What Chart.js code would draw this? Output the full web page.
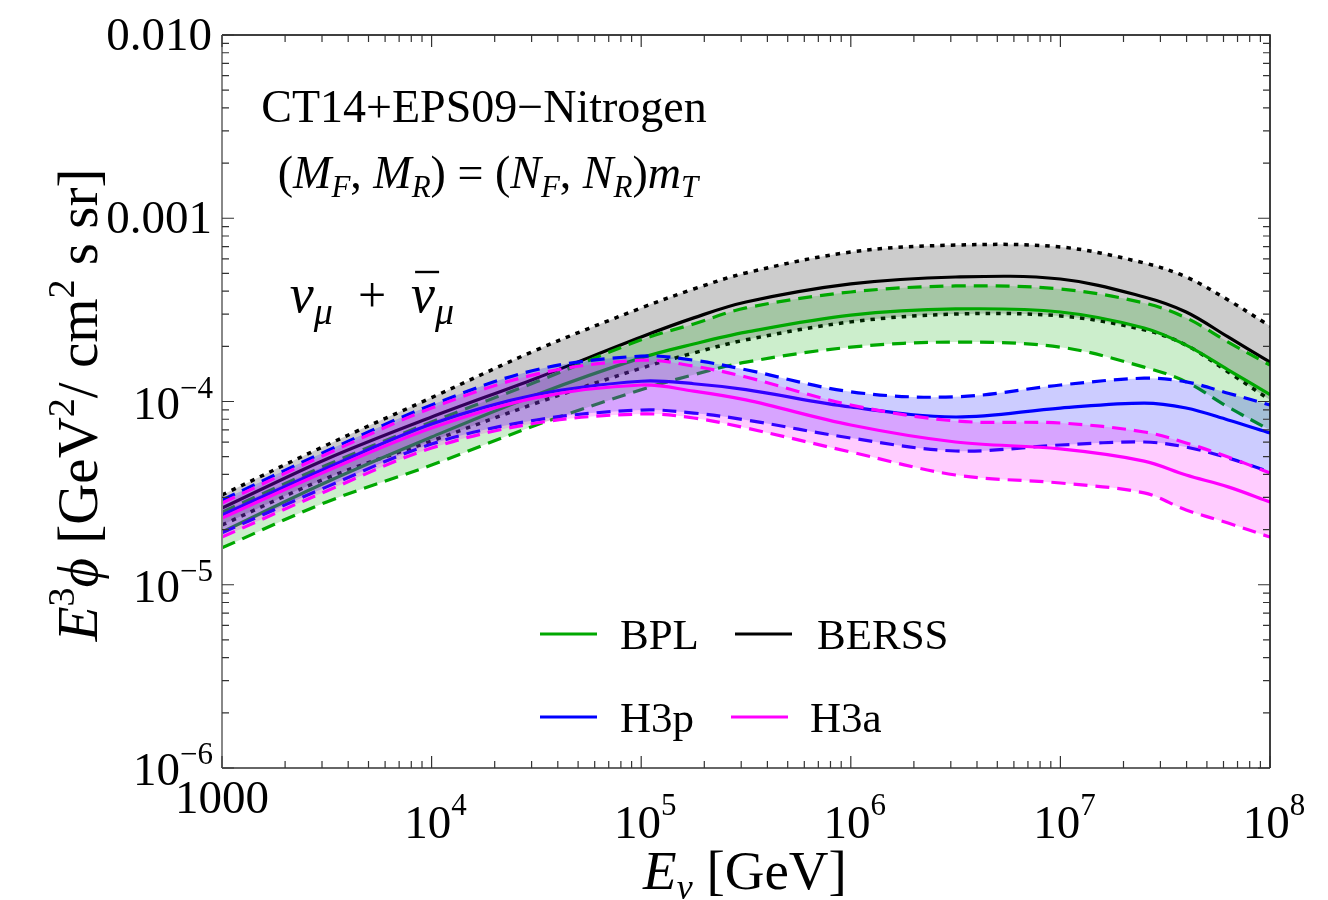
<!DOCTYPE html>
<html lang="en">
<head>
<meta charset="UTF-8">
<title>Prompt muon neutrino flux</title>
<script src="https://cdn.jsdelivr.net/npm/chart.js"></script>
<style>
  html, body { margin: 0; padding: 0; background: #fff; }
</style>
</head>
<body>
<canvas id="fluxChart" width="1328" height="900"></canvas>
<script>
// neutrino energy grid [GeV]
const energies = [1e3, 3.16e3, 1e4, 3.16e4, 1e5, 1.78e5, 3.16e5, 1e6, 3.16e6, 1e7, 2.51e7, 3.98e7, 6.31e7, 1e8];

// E^3 phi [GeV^2 / cm^2 s sr], central value and scale-variation band per cosmic-ray model
const berssHigh = [3.09e-5, 5.79e-5, 1.05e-4, 1.91e-4, 3.24e-4, 4.11e-4, 5.03e-4, 6.54e-4, 7.14e-4, 6.97e-4, 5.70e-4, 4.78e-4, 3.58e-4, 2.58e-4];
const berssMid  = [2.62e-5, 4.86e-5, 8.23e-5, 1.34e-4, 2.25e-4, 2.86e-4, 3.49e-4, 4.38e-4, 4.78e-4, 4.66e-4, 3.72e-4, 3.08e-4, 2.25e-4, 1.64e-4];
const berssLow  = [2.12e-5, 3.82e-5, 6.09e-5, 9.81e-5, 1.52e-4, 1.84e-4, 2.17e-4, 2.72e-4, 3.00e-4, 2.93e-4, 2.46e-4, 2.03e-4, 1.45e-4, 1.02e-4];

const bplHigh = [2.49e-5, 4.50e-5, 7.73e-5, 1.28e-4, 2.17e-4, 2.65e-4, 3.24e-4, 3.96e-4, 4.27e-4, 4.11e-4, 3.45e-4, 2.86e-4, 2.11e-4, 1.58e-4];
const bplMid  = [1.94e-5, 3.64e-5, 6.40e-5, 1.09e-4, 1.73e-4, 2.06e-4, 2.39e-4, 2.96e-4, 3.20e-4, 3.08e-4, 2.52e-4, 2.03e-4, 1.49e-4, 1.09e-4];
const bplLow  = [1.59e-5, 2.83e-5, 4.50e-5, 7.44e-5, 1.16e-4, 1.40e-4, 1.64e-4, 1.98e-4, 2.11e-4, 1.98e-4, 1.54e-4, 1.28e-4, 9.33e-5, 6.99e-5];

const h3pHigh = [2.90e-5, 5.37e-5, 9.57e-5, 1.49e-4, 1.77e-4, 1.68e-4, 1.49e-4, 1.13e-4, 1.06e-4, 1.23e-4, 1.34e-4, 1.28e-4, 1.11e-4, 9.57e-5];
const h3pMid  = [2.40e-5, 4.34e-5, 7.54e-5, 1.09e-4, 1.29e-4, 1.25e-4, 1.16e-4, 9.33e-5, 8.23e-5, 9.21e-5, 9.81e-5, 9.21e-5, 7.93e-5, 6.73e-5];
const h3pLow  = [1.92e-5, 3.42e-5, 5.86e-5, 7.93e-5, 8.98e-5, 8.65e-5, 7.93e-5, 6.32e-5, 5.37e-5, 5.79e-5, 6.01e-5, 5.64e-5, 4.92e-5, 4.12e-5];

const h3aHigh = [2.79e-5, 5.17e-5, 9.21e-5, 1.41e-4, 1.68e-4, 1.56e-4, 1.36e-4, 9.57e-5, 7.83e-5, 7.63e-5, 6.82e-5, 5.94e-5, 4.98e-5, 4.07e-5];
const h3aMid  = [2.31e-5, 4.18e-5, 7.17e-5, 1.05e-4, 1.23e-4, 1.14e-4, 1.02e-4, 7.44e-5, 6.01e-5, 5.51e-5, 4.73e-5, 3.97e-5, 3.42e-5, 2.83e-5];
const h3aLow  = [1.82e-5, 3.25e-5, 5.57e-5, 7.63e-5, 8.55e-5, 8.13e-5, 7.17e-5, 5.30e-5, 3.97e-5, 3.59e-5, 3.17e-5, 2.56e-5, 2.17e-5, 1.82e-5];

// axis ticks
const xMajor = [1e3, 1e4, 1e5, 1e6, 1e7, 1e8];
const xLabels = [['1000'], ['10', '4'], ['10', '5'], ['10', '6'], ['10', '7'], ['10', '8']];
const yMajor = [1e-2, 1e-3, 1e-4, 1e-5, 1e-6];
const yLabels = [['0.010'], ['0.001'], ['10', '\u22124'], ['10', '\u22125'], ['10', '\u22126']];

const GREEN = 'rgb(0,168,0)';
const SERIF = '"Liberation Serif", "Times New Roman", serif';
const DASH = [14, 8];
const DOT = [4.5, 6];

const pts = arr => energies.map((e, i) => ({ x: e, y: arr[i] }));

function line(data, color, dash, order, fillColor) {
    return {
        data: pts(data),
        borderColor: color,
        borderWidth: dash === DOT ? 3.5 : 3.2,
        borderDash: dash || [],
        pointRadius: 0,
        tension: 0.35,
        fill: fillColor ? '+1' : false,
        backgroundColor: fillColor || 'transparent',
        order: order
    };
}

// each band: upper (filled down to lower), lower, central
const datasets = [
    line(berssHigh, '#000', DOT, 12, 'rgba(0,0,0,0.2)'),
    line(berssLow, '#000', DOT, 11),
    line(berssMid, '#000', null, 10),
    line(bplHigh, GREEN, DASH, 9, 'rgba(0,170,0,0.2)'),
    line(bplLow, GREEN, DASH, 8),
    line(bplMid, GREEN, null, 7),
    line(h3pHigh, '#0000ff', DASH, 6, 'rgba(0,0,255,0.2)'),
    line(h3pLow, '#0000ff', DASH, 5),
    line(h3pMid, '#0000ff', null, 4),
    line(h3aHigh, '#ff00ff', DASH, 3, 'rgba(255,0,255,0.2)'),
    line(h3aLow, '#ff00ff', DASH, 2),
    line(h3aMid, '#ff00ff', null, 1)
];

function fnt(size, italic) { return (italic ? 'italic ' : '') + size + 'px ' + SERIF; }

// runs: [text, size, italic, dy]
function drawRuns(ctx, runs, x, y, align) {
    let total = 0;
    runs.forEach(r => { ctx.font = fnt(r[1], r[2]); total += ctx.measureText(r[0]).width; });
    let cx = align === 'right' ? x - total : align === 'center' ? x - total / 2 : x;
    const starts = [];
    runs.forEach(r => {
        ctx.font = fnt(r[1], r[2]);
        starts.push(cx);
        ctx.fillText(r[0], cx, y + (r[3] || 0));
        cx += ctx.measureText(r[0]).width;
    });
    return starts;
}

const decor = {
    id: 'decor',
    afterDraw(chart) {
        const ctx = chart.ctx;
        const a = chart.chartArea;
        const sx = chart.scales.x, sy = chart.scales.y;
        ctx.save();
        ctx.textAlign = 'left';
        ctx.textBaseline = 'alphabetic';
        ctx.fillStyle = '#000';

        // frame
        ctx.lineWidth = 1.5;
        ctx.strokeStyle = '#000';
        ctx.beginPath();
        ctx.moveTo(a.left, a.top); ctx.lineTo(a.right, a.top); ctx.lineTo(a.right, a.bottom);
        ctx.stroke();
        ctx.strokeStyle = '#333';
        ctx.beginPath(); ctx.moveTo(a.left, a.bottom); ctx.lineTo(a.right, a.bottom); ctx.stroke();
        ctx.strokeStyle = '#888';
        ctx.lineWidth = 2;
        ctx.beginPath(); ctx.moveTo(a.left, a.top); ctx.lineTo(a.left, a.bottom); ctx.stroke();

        // inward ticks on all four sides
        ctx.lineWidth = 1.2;
        ctx.strokeStyle = '#333';
        ctx.beginPath();
        for (let d = 3; d <= 8; d++) {
            for (let m = 1; m <= 9; m++) {
                const v = m * Math.pow(10, d);
                if (v > 1e8 * 1.001) break;
                const px = sx.getPixelForValue(v);
                const len = m === 1 ? 12 : 7;
                ctx.moveTo(px, a.bottom); ctx.lineTo(px, a.bottom - len);
                ctx.moveTo(px, a.top); ctx.lineTo(px, a.top + len);
            }
        }
        for (let d = -6; d <= -2; d++) {
            for (let m = 1; m <= 9; m++) {
                const v = m * Math.pow(10, d);
                if (v > 1e-2 * 1.001) break;
                const py = sy.getPixelForValue(v);
                const len = m === 1 ? 12 : 7;
                ctx.moveTo(a.left, py); ctx.lineTo(a.left + len, py);
                ctx.moveTo(a.right, py); ctx.lineTo(a.right - len, py);
            }
        }
        ctx.stroke();

        // tick labels
        yMajor.forEach((v, i) => {
            const py = sy.getPixelForValue(v);
            const lab = yLabels[i];
            if (lab.length === 1) drawRuns(ctx, [[lab[0], 47, false]], a.left - 10, py + 15, 'right');
            else drawRuns(ctx, [[lab[0], 47, false], [lab[1], 31, false, -21]], a.left - 9, py + 17, 'right');
        });
        xMajor.forEach((v, i) => {
            const px = sx.getPixelForValue(v);
            const lab = xLabels[i];
            if (lab.length === 1) drawRuns(ctx, [[lab[0], 47, false]], px, a.bottom + 45, 'center');
            else drawRuns(ctx, [[lab[0], 47, false], [lab[1], 31, false, -23]], px + 4, a.bottom + 70, 'center');
        });

        // axis titles
        drawRuns(ctx, [['E', 55, true], ['\u03BD', 36, true, 10], [' [GeV]', 55, false]], 745, 889, 'center');
        ctx.save();
        ctx.translate(97, 405);
        ctx.rotate(-Math.PI / 2);
        drawRuns(ctx, [['E', 57, true], ['3', 38, false, -23], ['\u03D5', 57, true], [' [GeV', 57, false],
            ['2', 38, false, -23], ['/ cm', 57, false], ['2', 38, false, -23], [' s sr]', 57, false]], 0, 0, 'center');
        ctx.restore();

        // annotations
        drawRuns(ctx, [['CT14+EPS09\u2212Nitrogen', 46, false]], 484, 122, 'center');
        drawRuns(ctx, [['(', 46, false], ['M', 46, true], ['F', 31, true, 9], [', ', 46, false], ['M', 46, true],
            ['R', 31, true, 9], [') = (', 46, false], ['N', 46, true], ['F', 31, true, 9], [', ', 46, false],
            ['N', 46, true], ['R', 31, true, 9], [')', 46, false], ['m', 46, true], ['T', 31, true, 9]], 488, 188, 'center');
        const st = drawRuns(ctx, [['\u03BD', 54, true], ['\u03BC', 38, true, 12], ['  +  ', 50, false],
            ['\u03BD', 54, true], ['\u03BC', 38, true, 12]], 372, 312, 'center');
        ctx.lineWidth = 2.4;
        ctx.strokeStyle = '#000';
        ctx.beginPath(); ctx.moveTo(st[3] + 4, 272); ctx.lineTo(st[3] + 28, 272); ctx.stroke();

        // legend
        const legend = [
            [540, 634, GREEN, 'BPL', 620],
            [735, 634, '#000', 'BERSS', 817],
            [540, 717, '#0000ff', 'H3p', 620],
            [731, 717, '#ff00ff', 'H3a', 810]
        ];
        legend.forEach(l => {
            ctx.strokeStyle = l[2];
            ctx.lineWidth = 3;
            ctx.beginPath(); ctx.moveTo(l[0], l[1]); ctx.lineTo(l[0] + 57, l[1]); ctx.stroke();
            drawRuns(ctx, [[l[3], 43, false]], l[4], l[1] + 15, 'left');
        });
        ctx.restore();
    }
};

new Chart(document.getElementById('fluxChart'), {
    type: 'line',
    data: { datasets: datasets },
    options: {
        responsive: false,
        animation: false,
        devicePixelRatio: 1,
        layout: { padding: { left: 222, right: 58, top: 35, bottom: 132 } },
        scales: {
            x: { type: 'logarithmic', min: 1e3, max: 1e8, display: false },
            y: { type: 'logarithmic', min: 1e-6, max: 1e-2, display: false }
        },
        plugins: {
            legend: { display: false },
            tooltip: { enabled: false },
            filler: { drawTime: 'beforeDatasetDraw' }
        }
    },
    plugins: [decor]
});
</script>
</body>
</html>
